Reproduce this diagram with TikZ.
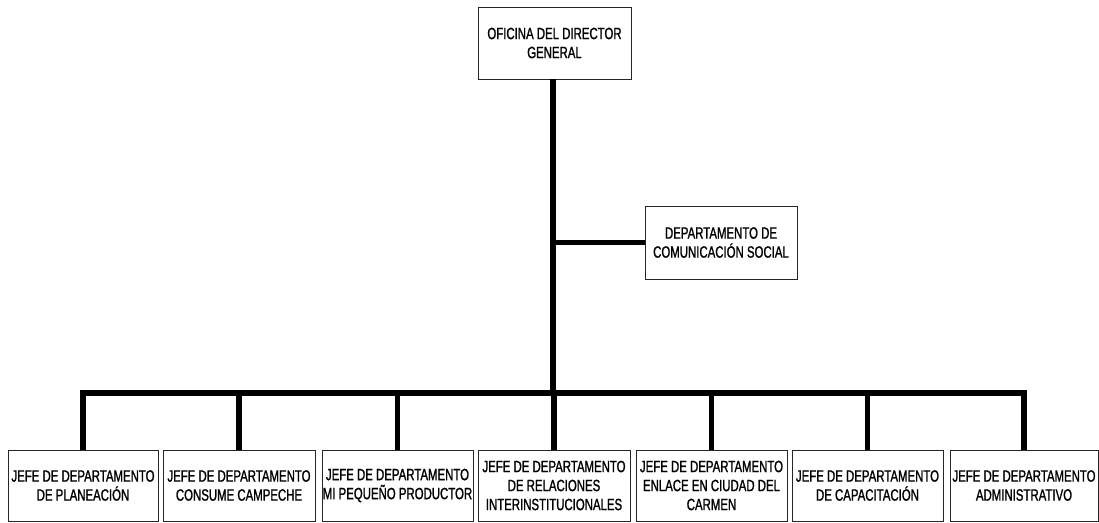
\documentclass[tikz,border=0pt]{standalone}
\usepackage{fontspec}
\setmainfont{Liberation Sans}[FakeStretch=0.70, FakeBold=1.2]
\usepackage{tikz}
\usetikzlibrary{shadows}

\begin{document}
\begin{tikzpicture}[x=1pt, y=1pt,
        caja/.style={draw=black!85, line width=0.9pt, fill=white, align=center, inner sep=0pt,
            font=\fontsize{16.3}{19}\selectfont,
            drop shadow={shadow xshift=1.2pt, shadow yshift=-1.2pt, fill=black!45, opacity=1}},
        linea/.style={line width=5.5pt, line join=miter}]
                \useasboundingbox (0,0) rectangle (1099,-522);

                \node[caja, minimum width=153, minimum height=72] (D) at (554.5,-43) {OFICINA DEL DIRECTOR\\GENERAL};
                \node[caja, minimum width=152, minimum height=73] (C) at (721,-242.5) {DEPARTAMENTO DE\\COMUNICACIÓN SOCIAL};

                \node[caja, minimum width=150, minimum height=71] (J1) at (83,-485.5) {JEFE DE DEPARTAMENTO\\DE PLANEACIÓN};
                \node[caja, minimum width=152, minimum height=71] (J2) at (239,-485.5) {JEFE DE DEPARTAMENTO\\CONSUME CAMPECHE};
                \node[caja, minimum width=151, minimum height=71] (J3) at (397.5,-485.5) {JEFE DE DEPARTAMENTO\\MI PEQUEÑO PRODUCTOR};
                \node[caja, minimum width=152, minimum height=71] (J4) at (554,-485.5) {JEFE DE DEPARTAMENTO\\DE RELACIONES\\INTERINSTITUCIONALES};
                \node[caja, minimum width=151, minimum height=71] (J5) at (711.5,-485.5) {JEFE DE DEPARTAMENTO\\ENLACE EN CIUDAD DEL\\CARMEN};
                \node[caja, minimum width=151, minimum height=71] (J6) at (867.5,-485.5) {JEFE DE DEPARTAMENTO\\DE CAPACITACIÓN};
                \node[caja, minimum width=148, minimum height=71] (J7) at (1024,-485.5) {JEFE DE DEPARTAMENTO\\ADMINISTRATIVO};

                \coordinate (B) at (553,-393);

                \draw[linea] (D.south -| B) -- (B);
                \draw[linea] (C.west) -- (C.west -| B);
                \draw[linea] (J1.north) |- (J7.north |- B) -- (J7.north);
                \foreach \j in {J2,J3,J4,J5,J6}
                    \draw[linea] (\j.north) -- (\j.north |- B);
            \end{tikzpicture}
\end{document}
